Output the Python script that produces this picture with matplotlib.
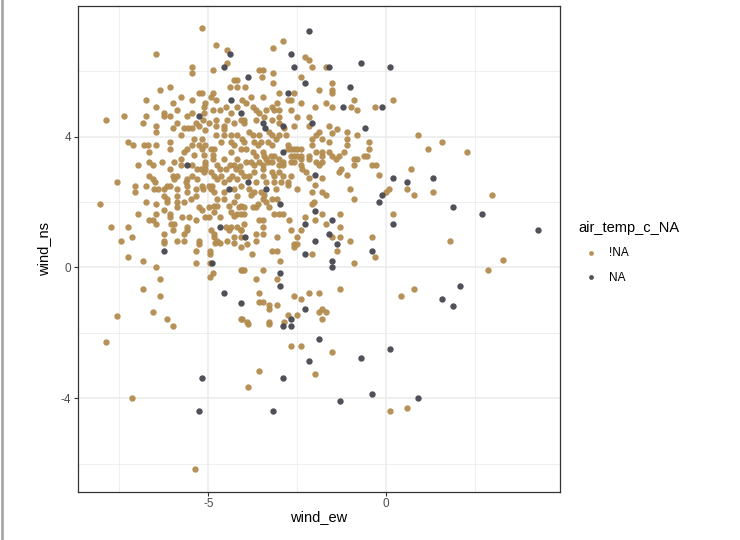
import numpy as np
import matplotlib
matplotlib.use("Agg")
import matplotlib.pyplot as plt
from matplotlib.lines import Line2D

plt.rcParams['font.family'] = ['Liberation Sans', 'DejaVu Sans']
plt.rcParams['axes.unicode_minus'] = False

# wind_ew, wind_ns pairs
# air_temp_c present (!NA)
pts_ok = [
    (-5.17, 7.32), (-4.78, 6.81), (-4.47, 6.64), (-6.48, 6.54), (-5.46, 6.14), (-5.46, 5.94), (-4.47, 6.25),
    (-4.87, 6.03), (-4.28, 5.73), (-4.18, 5.73), (-4.39, 5.53), (-4.19, 5.53), (-6.08, 5.53), (-6.36, 5.42),
    (-5.25, 5.33), (-5.17, 5.33), (-5.78, 5.22), (-4.88, 5.33), (-4.93, 5.22), (-6.76, 5.12), (-5.46, 5.12),
    (-5.08, 5.02), (-4.79, 5.12), (-5.98, 5.02), (-6.48, 4.91), (-5.87, 4.81), (-5.12, 4.91), (-4.86, 4.81),
    (-4.67, 4.81), (-4.49, 4.91), (-4.2, 4.91), (-7.87, 4.51), (-7.37, 4.62), (-6.76, 4.62), (-6.85, 4.41),
    (-6.26, 4.72), (-6.26, 4.62), (-6.08, 4.62), (-6.48, 4.33), (-6.48, 4.14), (-5.87, 4.41), (-5.98, 4.25),
    (-5.59, 4.62), (-5.45, 4.72), (-5.36, 4.41), (-5.15, 4.51), (-5.12, 4.72), (-5.68, 4.25), (-5.56, 4.25),
    (-5.45, 4.25), (-5.26, 4.31), (-5.08, 4.21), (-4.98, 4.41), (-4.77, 4.51), (-4.77, 4.31), (-4.56, 4.31),
    (-4.56, 4.22), (-4.47, 4.51), (-4.28, 4.41), (-4.09, 4.51), (-4.37, 4.72), (-4.79, 4.05), (-4.56, 4.05),
    (-4.37, 4.05), (-4.19, 4.05), (-5.78, 4.05), (-5.4, 3.94), (-5.17, 3.94), (-7.26, 3.84), (-7.13, 3.73),
    (-6.81, 3.73), (-6.71, 3.73), (-6.48, 3.73), (-6.08, 3.84), (-6.08, 3.63), (-6.67, 3.54), (-5.59, 3.63),
    (-5.45, 3.73), (-5.26, 3.73), (-5.08, 3.73), (-5.17, 3.63), (-4.93, 3.63), (-4.84, 3.63), (-5.68, 3.54),
    (-5.4, 3.44), (-5.12, 3.44), (-4.86, 3.44), (-4.86, 3.33), (-4.65, 3.84), (-4.37, 3.84), (-4.28, 3.73),
    (-4.09, 3.63), (-4.37, 3.54), (-4.56, 3.33), (-4.19, 3.33), (-5.78, 3.33), (-5.96, 3.23), (-6.99, 3.13),
    (-6.67, 3.23), (-6.57, 3.13), (-6.29, 3.23), (-5.78, 3.13), (-5.45, 3.13), (-5.08, 3.23), (-5.08, 3.13),
    (-4.75, 3.13), (-4.4, 3.13), (-4.28, 3.13),
    (-6.08, 3.02), (-5.31, 3.02), (-5.2, 3.02), (-5.08, 3.02), (-5.12, 2.91), (-4.93, 2.91), (-4.67, 3.02),
    (-4.5, 3.02), (-4.23, 3.02), (-4.1, 3.1), (-6.67, 2.81), (-6.57, 2.71), (-6.51, 2.61), (-7.56, 2.61),
    (-7.06, 2.5), (-6.76, 2.5), (-7.07, 2.3), (-6.41, 2.4), (-6.17, 2.5), (-6.08, 2.5), (-5.98, 2.81),
    (-5.87, 2.81), (-5.96, 2.71), (-5.59, 2.71), (-5.45, 2.81), (-5.31, 2.71), (-5.17, 2.5), (-5.14, 2.4),
    (-5.36, 2.4), (-5.64, 2.61), (-5.59, 2.5), (-5.87, 2.4), (-6.26, 2.4), (-6.24, 2.19), (-6.17, 2.09),
    (-6.17, 1.99), (-6.54, 2.4), (-5.87, 2.19), (-5.59, 2.3), (-5.5, 2.09), (-5.36, 2.19), (-4.98, 2.5),
    (-4.89, 2.5), (-4.93, 2.4), (-4.84, 2.3), (-4.75, 2.71), (-4.65, 2.81), (-4.56, 2.61), (-4.84, 2.81),
    (-4.42, 2.71), (-4.33, 2.81), (-4.19, 2.71), (-4.28, 2.4), (-4.09, 2.5), (-4.19, 2.19), (-4.56, 2.3),
    (-6.76, 1.99), (-6.48, 1.95), (-8.05, 1.95), (-6.97, 1.64), (-6.48, 1.64), (-6.67, 1.44), (-6.57, 1.44),
    (-6.48, 1.33), (-6.08, 1.64), (-6.08, 1.54), (-6.26, 1.74), (-5.87, 1.99), (-5.87, 1.85), (-5.68, 1.99),
    (-5.73, 1.54), (-5.54, 1.54), (-5.36, 1.44), (-5.26, 1.85), (-5.17, 1.74), (-5.08, 1.54), (-4.98, 1.54),
    (-4.98, 1.85), (-4.84, 1.89), (-4.75, 1.89), (-4.84, 1.68), (-4.67, 1.54), (-4.37, 1.68), (-4.28, 1.58),
    (-4.19, 1.64), (-4.42, 1.89), (-4.28, 1.99), (-4.09, 1.87), (-4.56, 2.09), (-4.75, 2.09), (-6.06, 1.33),
    (-5.96, 1.33), (-5.98, 1.13), (-5.59, 1.23), (-5.59, 1.13), (-5.68, 1.03), (-7.74, 1.23), (-7.25, 1.23),
    (-7.15, 0.92), (-7.46, 0.82), (-6.26, 1.03), (-6.26, 0.82), (-6.26, 0.74), (-5.87, 0.82), (-5.68, 0.82),
    (-5.26, 0.82), (-5.26, 0.72), (-4.93, 1.13), (-4.84, 1.03), (-4.51, 1.23), (-4.37, 1.23), (-4.42, 1.13),
    (-4.19, 1.23), (-4.09, 1.13), (-4.84, 0.92), (-4.75, 0.82), (-4.67, 0.74), (-4.8, 0.74), (-4.47, 0.82),
    (-4.28, 0.92), (-4.28, 0.74), (-4.09, 0.92), (-7.25, 0.31), (-6.85, 0.21), (-5.36, 0.51), (-5.36, 0.12),
    (-4.96, 0.51), (-4.96, 0.41), (-4.96, 0.12), (-4.09, -0.08), (-6.48, 0.0), (-6.36, -0.36), (-4.86, -0.18),
    (-4.96, -0.29), (-6.85, -0.67), (-6.36, -0.87), (-6.57, -1.37), (-7.56, -1.48), (-6.17, -1.58),
    (-4.09, -1.58), (-5.98, -1.78),
    (-7.87, -2.29), (-7.15, -3.98), (-5.37, -6.18),
    (-3.88, -1.72), (-3.29, -1.72), (-2.68, -2.39), (-2.4, -2.39), (-1.51, -2.59), (-3.57, -3.17),
    (-1.99, -3.27), (-3.88, -3.67), (0.1, -4.39), (0.6, -4.29),
    (0.69, 3.02), (0.6, 2.41), (0.79, 2.21), (1.31, 2.31), (2.98, 2.21), (1.8, 0.82), (3.29, 0.22),
    (2.88, -0.09), (0.79, -0.67), (0.41, -0.87),
    (0.91, 4.04), (1.19, 3.63), (1.58, 3.84), (2.29, 3.53),
    (-2.9, 6.91), (-3.17, 6.72), (-2.28, 6.45), (-2.18, 6.35), (-2.09, 6.14), (-1.68, 6.14), (-3.57, 6.04),
    (-3.47, 6.04), (-3.49, 5.83), (-3.17, 5.94), (-3.17, 5.63), (-2.4, 5.83), (-1.51, 5.63), (-1.51, 5.43),
    (-1.51, 5.33), (-1.88, 5.43), (-3.96, 5.53), (-3.0, 5.33), (-2.58, 5.33), (-3.8, 5.22), (-2.77, 5.12),
    (-2.68, 5.12), (-3.47, 5.22), (-3.08, 5.02), (-2.4, 5.02), (-1.68, 5.02), (-1.99, 4.91), (-1.51, 4.91),
    (-0.99, 4.91), (-0.81, 4.81), (-0.9, 5.12), (-0.31, 4.91), (0.2, 5.12), (-4.04, 5.12), (-3.94, 5.02),
    (-3.75, 4.91), (-3.66, 4.81), (-3.57, 4.71), (-3.38, 4.81), (-3.2, 4.91), (-3.15, 4.81), (-3.0, 4.81),
    (-2.68, 4.81), (-3.99, 4.5), (-3.99, 4.41), (-3.66, 4.5), (-3.43, 4.61), (-3.2, 4.5), (-3.0, 4.61),
    (-2.49, 4.61), (-3.01, 4.41), (-2.87, 4.25), (-2.18, 4.61), (-2.58, 4.33), (-2.18, 4.33), (-1.88, 4.14),
    (-1.97, 4.04), (-1.6, 4.33), (-1.37, 4.22), (-1.51, 4.12), (-1.1, 4.14), (-0.81, 4.04), (-0.48, 3.84),
    (-0.48, 3.63), (-1.1, 3.94), (-1.1, 3.73), (-1.79, 3.94), (-1.6, 3.84), (-2.07, 3.94), (-2.07, 3.73),
    (-3.85, 4.14), (-3.75, 4.04), (-3.57, 4.04), (-3.29, 4.14), (-3.2, 4.04), (-3.01, 4.04), (-2.82, 4.04),
    (-4.04, 3.94), (-3.99, 3.84), (-3.71, 3.84), (-3.61, 3.73), (-3.52, 3.84), (-3.33, 3.84), (-3.2, 3.73),
    (-2.77, 3.73), (-2.77, 3.63), (-3.1, 3.94), (-2.68, 3.63), (-2.58, 3.63), (-2.49, 3.63), (-2.4, 3.63),
    (-2.68, 3.42), (-2.58, 3.42), (-2.49, 3.42), (-2.4, 3.42), (-2.4, 3.31), (-2.58, 3.22), (-2.68, 3.22),
    (-1.97, 3.53), (-1.79, 3.53), (-2.16, 3.42), (-2.16, 3.32), (-1.79, 3.42), (-1.6, 3.53), (-1.51, 3.42),
    (-1.41, 3.32), (-1.32, 3.42), (-1.18, 3.53), (-0.9, 3.32), (-0.81, 3.32), (-0.62, 3.42), (-0.53, 3.42),
    (-0.38, 3.12), (-0.29, 3.12), (-3.94, 3.63), (-3.75, 3.53), (-3.66, 3.42), (-3.47, 3.53), (-3.43, 3.42),
    (-3.38, 3.32), (-3.24, 3.42), (-3.15, 3.42), (-3.01, 3.32), (-2.91, 3.22), (-3.94, 3.22), (-3.8, 3.22),
    (-3.57, 3.22), (-3.33, 3.22), (-3.2, 3.22), (-3.71, 3.12), (-3.47, 3.12), (-3.01, 3.12), (-1.97, 3.22),
    (-1.79, 3.22),
    (-2.91, 3.12), (-1.88, 3.12), (-0.9, 3.12), (-3.47, 3.02),
    (-4.08, 2.91), (-3.99, 2.81), (-3.85, 2.81), (-3.71, 2.91), (-3.47, 2.81), (-3.2, 2.91), (-3.15, 2.81),
    (-3.01, 2.91), (-2.91, 2.81), (-3.66, 2.62), (-3.38, 2.62), (-3.15, 2.62), (-2.96, 2.62), (-2.77, 2.62),
    (-2.77, 2.51), (-2.68, 2.81), (-2.4, 3.12), (-2.35, 3.02), (-2.25, 2.91), (-2.18, 2.72), (-1.79, 2.72),
    (-1.99, 2.51), (-2.49, 2.41), (-2.09, 2.31), (-1.79, 2.31), (-1.69, 2.21), (-1.32, 2.92), (-1.27, 3.02),
    (-1.09, 2.82), (-1.01, 2.41), (-0.9, 2.1), (-0.2, 2.82), (0.08, 2.41), (-0.01, 2.31), (0.2, 1.63),
    (-3.85, 2.41), (-3.8, 2.21), (-3.71, 2.31), (-3.52, 2.31), (-3.43, 2.21), (-3.47, 2.1), (-3.38, 2.0),
    (-3.29, 1.85), (-3.2, 2.1), (-3.06, 2.1), (-3.1, 2.41), (-4.13, 1.85), (-3.99, 1.85), (-3.75, 1.85),
    (-3.61, 1.95), (-3.66, 1.85), (-4.08, 1.64), (-3.99, 1.64), (-3.15, 1.64), (-3.01, 1.64), (-2.91, 1.64),
    (-3.57, 1.44), (-3.47, 1.44), (-3.47, 1.23), (-3.99, 1.33), (-4.08, 1.13), (-3.66, 1.03), (-3.47, 1.03),
    (-3.66, 0.82), (-3.9, 0.72), (-4.08, 0.62), (-3.08, 0.92), (-3.2, 0.51), (-3.08, 0.51), (-3.78, 0.41),
    (-2.99, 0.21), (-4.05, -0.08), (-3.99, -0.08), (-3.47, -0.08), (-3.08, -0.36), (-3.66, -0.36),
    (-3.57, -0.77), (-3.57, -1.06), (-3.47, -1.06), (-3.29, -1.16), (-3.29, -1.27), (-3.08, -1.16),
    (-4.05, -1.57), (-3.9, -1.67), (-3.29, -1.67), (-2.77, -1.47), (-2.87, -1.67), (-2.49, -1.47),
    (-2.58, -0.87), (-2.4, -0.97), (-2.18, -0.77), (-1.88, -0.77), (-1.88, -1.36), (-1.79, -1.27),
    (-1.69, -1.37), (-1.79, -1.57), (-1.29, -0.67), (-2.72, 1.44), (-2.68, 1.13), (-2.58, 0.72),
    (-2.49, 0.72), (-2.58, 0.62), (-2.4, 1.13), (-2.49, 0.92), (-2.28, 1.54), (-1.99, 1.44), (-2.09, 1.95),
    (-2.02, 2.0), (-1.79, 1.64), (-1.69, 1.33), (-1.29, 1.64), (-1.29, 1.23), (-1.51, 0.92), (-1.29, 0.92),
    (-1.38, 0.51), (-1.01, 0.82), (-2.09, 0.41), (-0.9, 0.12), (-0.4, 0.92), (-0.31, 0.31),
]

# air_temp_c missing (NA)
pts_na = [
    (-4.38, 6.54), (-4.56, 6.14), (-4.37, 5.12), (-4.09, 4.71), (-5.26, 4.62), (-5.59, 3.13),
    (-4.42, 2.4), (-4.67, 1.23), (-6.26, 0.51), (-4.89, 0.12), (-4.56, -0.77), (-4.09, -1.08),
    (-5.18, -3.38), (-5.27, -4.39),
    (-2.89, -1.78), (-2.68, -1.78), (-1.88, -2.18), (-2.18, -2.86), (-0.69, -2.76), (0.1, -2.49),
    (-2.89, -3.38), (-0.38, -3.88), (-1.29, -4.08), (-3.17, -4.39), (0.91, -3.98),
    (0.6, 2.62), (1.31, 2.72), (1.89, 1.84), (2.71, 1.63), (4.28, 1.13), (2.08, -0.56), (1.58, -0.96),
    (1.89, -1.17),
    (-2.18, 7.22), (-2.68, 6.54), (-2.58, 6.14), (-1.6, 6.14), (-0.69, 6.25), (0.1, 6.14), (-3.88, 5.83),
    (-2.28, 5.63), (-1.01, 5.53), (-2.77, 5.33), (-1.2, 4.91), (-0.12, 4.91), (-3.47, 4.41), (-3.4, 4.25),
    (-2.91, 4.33), (-2.09, 4.41), (-0.6, 4.25), (-2.89, 3.54),
    (-3.88, 2.62), (-1.99, 2.82), (0.2, 2.72), (-0.1, 2.21), (-0.2, 2.0), (0.2, 1.33), (-3.38, 2.41),
    (-2.99, 1.94), (-3.97, 0.92), (-2.99, -0.18), (-2.99, -0.56), (-2.68, -1.57), (-2.28, -1.27),
    (-2.28, 1.33), (-1.99, 1.73), (-1.51, 1.44), (-1.6, 1.03), (-1.38, 0.72), (-1.99, 0.82), (-2.28, 0.41),
    (-1.51, 0.21), (-1.51, 0.0), (-0.4, 0.51),
]

ok = np.array(pts_ok)
na = np.array(pts_na)

col_ok = '#B38C4F'
col_na = '#46464F'

fig = plt.figure(figsize=(7.4, 5.4), dpi=100)
ax = fig.add_axes([78 / 740, 1 - 491.5 / 540, 482 / 740, 485.5 / 540])

ax.scatter(ok[:, 0], ok[:, 1], s=21, color=col_ok, alpha=0.95, linewidths=0, label='!NA', zorder=3)
ax.scatter(na[:, 0], na[:, 1], s=21, color=col_na, alpha=0.95, linewidths=0, label='NA', zorder=3)

ax.margins(0.05)
ax.set_xticks([-5, 0])
ax.set_xticks([-7.5, -2.5, 2.5], minor=True)
ax.set_yticks([-4, 0, 4])
ax.set_yticks([-6, -2, 2, 6], minor=True)
ax.grid(which='major', color='#EBEBEB', linewidth=1.1, zorder=0)
ax.grid(which='minor', color='#EBEBEB', linewidth=0.55, zorder=0)
ax.set_axisbelow(True)
ax.tick_params(which='major', length=3, width=0.8, color='#333333', labelcolor='#4D4D4D',
               labelsize=8.5, pad=2)
ax.tick_params(which='minor', length=0)
for sp in ax.spines.values():
    sp.set_color('#333333')
    sp.set_linewidth(0.9)

ax.set_xlabel('wind_ew', fontsize=10.5, color='black', labelpad=0)
ax.set_ylabel('wind_ns', fontsize=10.5, color='black', labelpad=7)

leg = ax.legend(title='air_temp_c_NA', loc='upper left', bbox_to_anchor=(574 / 740, 1 - 216 / 540),
                bbox_transform=fig.transFigure, frameon=False, fontsize=8.5, title_fontsize=10.5,
                markerscale=0.75, handletextpad=0.6, labelspacing=1.05, alignment='left',
                borderaxespad=0)

# left gray edge of the screenshot
fig.add_artist(Line2D([1.5 / 740, 1.5 / 740], [0, 1], color='#A8A8A8', linewidth=2,
                      transform=fig.transFigure))

fig.savefig('out.png', dpi=100)
